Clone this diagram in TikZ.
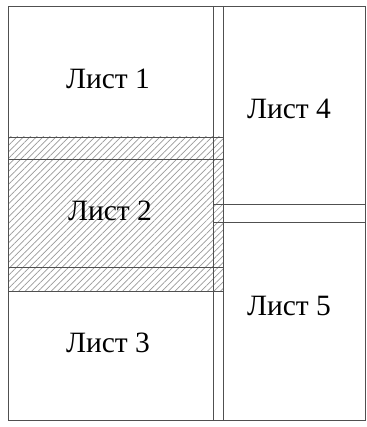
\documentclass[tikz,border=0pt]{standalone}
\usepackage{fontspec}
\setmainfont{Liberation Serif}
\usetikzlibrary{patterns.meta}
\definecolor{ink}{HTML}{505050}
\definecolor{hatch}{HTML}{9a9a9a}

\begin{document}
\begin{tikzpicture}[x=1pt, y=-1pt,
  line/.style={draw=ink, line width=0.9pt},
  lab/.style={font=\fontsize{29.5}{34}\selectfont, inner sep=0pt}]

  \useasboundingbox[fill=white] (0,0) rectangle (366,427);

  % Hatched overlap of sheet 2
  \fill[pattern={Lines[angle=45, distance=4.6pt, line width=0.7pt]}, pattern color=hatch]
    (8,137) rectangle (223,291);

  % Frame and columns
  \draw[line] (8,6) rectangle (365,420);
  \foreach \x in {213, 223} {
    \draw[line] (\x,6) -- (\x,420);
  }

  % Sheet borders, left column
  \foreach \y in {137, 159, 267, 291} {
    \draw[line] (8,\y) -- (223,\y);
  }

  % Sheet borders, right column
  \foreach \y in {204, 222} {
    \draw[line] (213,\y) -- (365,\y);
  }

  % Sheets
  \node[lab] (list1) at (108,79) {Лист 1};
  \node[lab] (list2) at (110,211) {Лист 2};
  \node[lab] (list3) at (108,343) {Лист 3};
  \node[lab] (list4) at (289,109) {Лист 4};
  \node[lab] (list5) at (289,306) {Лист 5};
\end{tikzpicture}
\end{document}
